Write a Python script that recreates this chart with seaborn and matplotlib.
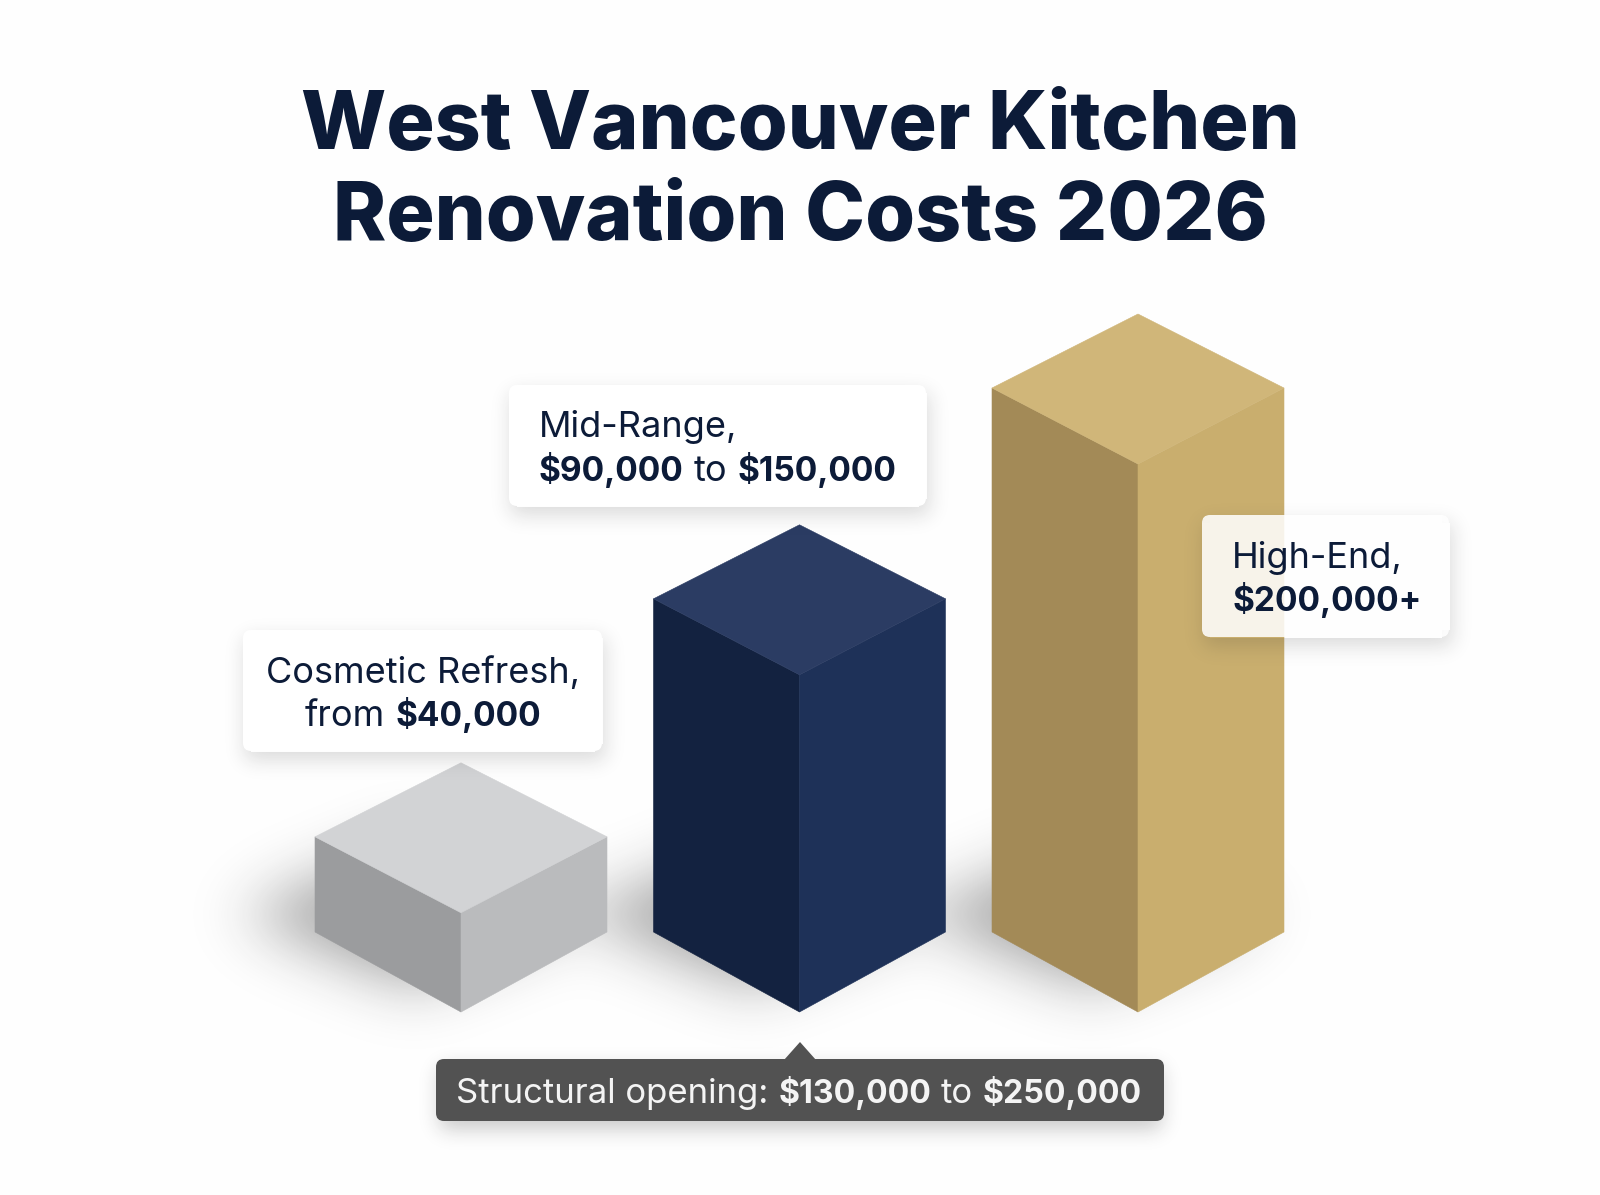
import numpy as np
import matplotlib
matplotlib.use("Agg")
import matplotlib.pyplot as plt
from matplotlib.patches import FancyBboxPatch, Polygon
import seaborn as sns

# values (same scale for all three blocks)
categories = ["Cosmetic Refresh", "Mid-Range", "High-End"]
bar_values = [35000, 122500, 200000]
top_colors = ["#D2D3D5", "#2B3C63", "#D0B679"]
left_colors = ["#9B9C9E", "#132240", "#A38A57"]
right_colors = ["#BABBBD", "#1E3158", "#C9AE6E"]

title_lines = ["West Vancouver Kitchen", "Renovation Costs 2026"]
cosmetic_lines = [[("Cosmetic Refresh,", "normal")], [("from", "normal"), ("$40,000", "bold")]]
mid_lines = [[("Mid-Range,", "normal")], [("$90,000", "bold"), ("to", "normal"), ("$150,000", "bold")]]
high_lines = [[("High-End,", "normal")], [("$200,000+", "bold")]]
note_runs = [("Structural opening:", "normal"), ("$130,000", "bold"), ("to", "normal"), ("$250,000", "bold")]

W, H = 1600, 1195
NAVY = "#0C1B38"
FONT = "Inter"
CARD_SIZES = {"normal": 26.0, "bold": 24.1}
NOTE_SIZES = {"normal": 25.0, "bold": 23.1}

# pixels per dollar and floor position of the blocks
PX_PER_USD = 0.00272
FLOOR_PX = 932
DEPTH_PX = 80
TOP_FRONT_PX = 76
TOP_BACK_PX = 74
CENTER_0 = 461
STEP = 338.5
BAR_W = 292 / STEP


def blur(mask, sigma):
    fy = np.fft.fftfreq(mask.shape[0])[:, None]
    fx = np.fft.rfftfreq(mask.shape[1])[None, :]
    kernel = np.exp(-2 * (np.pi * sigma) ** 2 * (fx ** 2 + fy ** 2))
    return np.fft.irfft2(np.fft.rfft2(mask) * kernel, s=mask.shape)


def diamond_mask(cx, cy, hw, hh):
    yy, xx = np.mgrid[0:H, 0:W]
    return (np.abs(xx - cx) / hw + np.abs(yy - cy) / hh <= 1).astype(float)


def rect_mask(x0, y0, x1, y1):
    yy, xx = np.mgrid[0:H, 0:W]
    return ((xx >= x0) & (xx <= x1) & (yy >= y0) & (yy <= y1)).astype(float)


def shadow_image(alpha):
    rgba = np.zeros((H, W, 4))
    rgba[..., :3] = 0.12
    rgba[..., 3] = np.clip(alpha, 0, 1)
    return rgba


def pixel_axes(zorder):
    a = fig.add_axes([0, 0, 1, 1], zorder=zorder)
    a.set_xlim(0, W)
    a.set_ylim(H, 0)
    a.axis("off")
    a.patch.set_alpha(0)
    return a


def draw_runs(a, runs, y, sizes, color, left=None, center=None):
    renderer = fig.canvas.get_renderer()
    gap = 0.30 * sizes["bold"] * fig.dpi / 72
    items = [a.text(0, y, s, fontsize=sizes[w], fontweight=w, color=color, family=FONT, va="baseline", ha="left") for s, w in runs]
    widths = [t.get_window_extent(renderer).width for t in items]
    total = sum(widths) + gap * (len(items) - 1)
    x = left if left is not None else center - total / 2
    for t, w in zip(items, widths):
        t.set_x(x)
        x += w + gap


def card(a, x0, y0, x1, y1, color="white", alpha=1.0):
    a.add_patch(FancyBboxPatch((x0, y0), x1 - x0, y1 - y0, boxstyle="round,pad=0,rounding_size=8",
                               fc=color, ec="none", alpha=alpha))


sns.set_style("white")
fig = plt.figure(figsize=(W / 100, H / 100), dpi=100, facecolor="#FEFEFE")

# floor shadows under the blocks
floor = pixel_axes(0)
floor_alpha = np.zeros((H, W))
for i in range(3):
    cx = CENTER_0 + i * STEP
    m = diamond_mask(cx - 48, FLOOR_PX - 18, 175, 72)
    floor_alpha += 0.42 * blur(m, 30)
floor.imshow(shadow_image(floor_alpha), extent=(0, W, H, 0), aspect="auto", interpolation="bilinear")
floor.set_xlim(0, W)
floor.set_ylim(H, 0)

# blocks: seaborn lays out the bars, each bar is then turned into three faces
ax = fig.add_axes([0, 0, 1, 1], zorder=1)
sns.barplot(x=categories, y=bar_values, hue=categories, palette=right_colors, width=BAR_W,
            legend=False, saturation=1, ax=ax)
ax.set_xlim(-CENTER_0 / STEP, (W - CENTER_0) / STEP)
ax.set_ylim(-(H - FLOOR_PX) / PX_PER_USD, FLOOR_PX / PX_PER_USD)
ax.axis("off")
ax.patch.set_alpha(0)

depth = DEPTH_PX / PX_PER_USD
top_front = TOP_FRONT_PX / PX_PER_USD
top_back = TOP_BACK_PX / PX_PER_USD
for bar, top, left, right in zip(ax.patches[:3], top_colors, left_colors, right_colors):
    bar.set_visible(False)
    x0, w, h = bar.get_x(), bar.get_width(), bar.get_height()
    xm, x1 = x0 + w / 2, x0 + w
    faces = [
        ([(x0, 0), (xm, -depth), (xm, h - top_front), (x0, h)], left),
        ([(xm, -depth), (x1, 0), (x1, h), (xm, h - top_front)], right),
        ([(x0, h), (xm, h - top_front), (x1, h), (xm, h + top_back)], top),
    ]
    for pts, c in faces:
        ax.add_patch(Polygon(pts, closed=True, fc=c, ec=c, lw=0.4))

# cards, notes and title on top
over = pixel_axes(2)
card_boxes = [(243, 630, 602, 751), (509, 385, 926, 506), (1202, 515, 1449, 637)]
card_alpha = np.zeros((H, W))
for x0, y0, x1, y1 in card_boxes:
    # no shadow behind the card itself, the High-End card is see-through
    inside = np.maximum(rect_mask(x0 + 8, y0, x1 - 8, y1), rect_mask(x0, y0 + 8, x1, y1 - 8))
    card_alpha += 0.16 * blur(rect_mask(x0 + 2, y0 + 8, x1 + 2, y1 + 8), 10) * (1 - inside)
card_alpha += 0.24 * blur(rect_mask(440, 1068, 1160, 1128), 10)
over.imshow(shadow_image(card_alpha), extent=(0, W, H, 0), aspect="auto", interpolation="bilinear")
over.set_xlim(0, W)
over.set_ylim(H, 0)

card(over, *card_boxes[0])
card(over, *card_boxes[1])
card(over, *card_boxes[2], alpha=0.86)

draw_runs(over, cosmetic_lines[0], 683, CARD_SIZES, NAVY, center=423)
draw_runs(over, cosmetic_lines[1], 726, CARD_SIZES, NAVY, center=423)
draw_runs(over, mid_lines[0], 437, CARD_SIZES, NAVY, left=539)
draw_runs(over, mid_lines[1], 481, CARD_SIZES, NAVY, left=539)
draw_runs(over, high_lines[0], 568, CARD_SIZES, NAVY, left=1232)
draw_runs(over, high_lines[1], 611, CARD_SIZES, NAVY, left=1232)

card(over, 436, 1059, 1164, 1121, color="#525252")
over.add_patch(Polygon([(784, 1060), (800, 1042), (816, 1060)], closed=True, fc="#525252", ec="none"))
draw_runs(over, note_runs, 1103, NOTE_SIZES, "#F4F4F4", center=799)

over.text(800, 149, title_lines[0], fontsize=58, fontweight=800, color=NAVY, family=FONT, ha="center", va="baseline")
over.text(800, 240, title_lines[1], fontsize=58, fontweight=800, color=NAVY, family=FONT, ha="center", va="baseline")

fig.savefig("out.png", dpi=100, facecolor=fig.get_facecolor())
